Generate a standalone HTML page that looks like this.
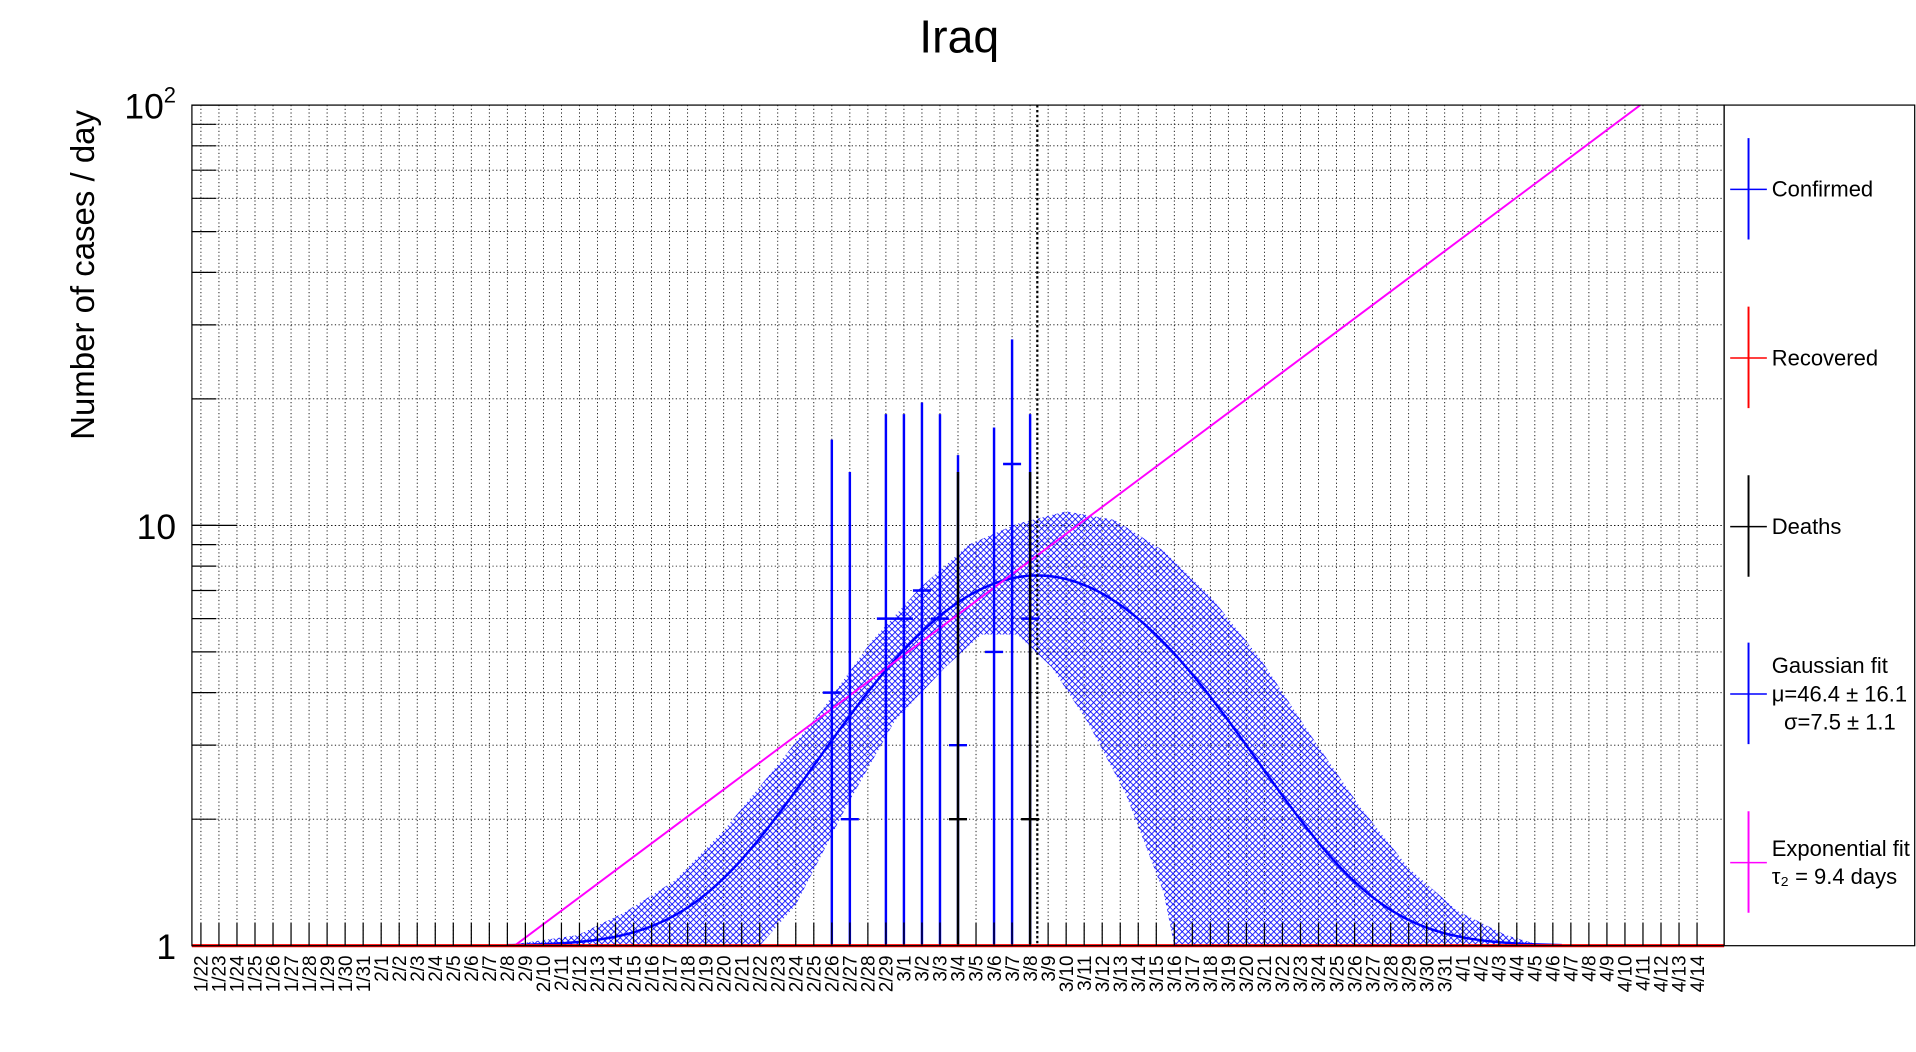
<!DOCTYPE html>
<html><head><meta charset="utf-8"><title>Iraq</title>
<style>html,body{margin:0;padding:0;background:#fff;}svg{display:block;font-family:"Liberation Sans",sans-serif;}</style>
</head><body>
<svg id="chart" width="1916" height="1052" viewBox="0 0 1568 861" xmlns="http://www.w3.org/2000/svg">
<defs>
<pattern id="hatch" patternUnits="userSpaceOnUse" width="5" height="5">
<path d="M0,0 L5,5 M5,0 L0,5" stroke="#0000ff" stroke-width="0.7" fill="none"/>
</pattern>
<clipPath id="plotclip"><rect x="157" y="86" width="1254" height="688"/></clipPath>
</defs>
<rect x="0" y="0" width="1568" height="861" fill="#fff"/>
<text x="785" y="43" font-size="38" text-anchor="middle">Iraq</text>
<text transform="translate(77,225) rotate(-90)" font-size="27" text-anchor="middle">Number of cases / day</text>
<g id="grid"></g>
<g id="band" clip-path="url(#plotclip)"></g>
<g id="lines" clip-path="url(#plotclip)"></g>
<g id="points"></g>
<g id="axes"></g>
<g id="legend"></g>
</svg>
<script>
// ---- data ----
const startDay = [1, 22]; // Jan 22
const nDays = 84;
const nBins = 85;
const confirmedIdx = [35, 36, 38, 39, 40, 41, 42, 44, 45, 46];
const confirmedVal = [4, 2, 6, 6, 7, 6, 3, 5, 14, 6];
const confirmedErrUp = [12, 11.4, 12.4, 12.4, 12.6, 12.4, 11.7, 12.1, 13.7, 12.4];
const deathsIdx = [42, 46];
const deathsVal = [2, 2];
const deathsErrUp = [11.4, 11.4];
const gaussMu = 46.4;
const gaussSigma = 7.5;
const gaussAmp = 6.6;
const expT0 = 17.9;
const expTau2 = 9.4;
const bandUpT = [17.3,21.4,24,26.8,29.5,32.2,35,37.7,40.4,43.1,45.8,48.5,51.2,53.9,56.6,59.3,62,64.8,67.5,70.2,72.9,74.9];
const bandUpV = [1,1.06,1.2,1.43,1.88,2.6,3.66,5.3,7.1,9.0,10.1,10.8,10.3,8.7,6.7,4.8,3.2,2.14,1.53,1.21,1.06,1.0];
const bandLoT = [31.5,33.5,36.3,39,41.8,43.8,45.8,47.7,49.7,51.8,53.9,54.5];
const bandLoV = [1,1.25,2.14,3.43,4.6,5.5,5.5,4.6,3.4,2.3,1.34,1];
const yTickLabels = ["1", "10", "10²"];

// ---- axes ----
const X0 = 157, X1 = 1411, Y0 = 774, Y1 = 86;
const bw = (X1 - X0) / nBins;
function xs(t) { return X0 + t * bw; }
function ys(v) { return Y0 - (Y0 - Y1) * Math.log10(v) / 2; }
const NS = "http://www.w3.org/2000/svg";
function mk(tag, attrs, parent) {
  const e = document.createElementNS(NS, tag);
  for (const k in attrs) e.setAttribute(k, attrs[k]);
  parent.appendChild(e);
  return e;
}
const grid = document.getElementById("grid");
const axes = document.getElementById("axes");
const band = document.getElementById("band");
const lines = document.getElementById("lines");
const pts = document.getElementById("points");
const legend = document.getElementById("legend");

const dim = {1:31, 2:29, 3:31, 4:30};
const dates = [];
let m = startDay[0], d = startDay[1];
for (let i = 0; i < nDays; i++) { dates.push(m + "/" + d); d++; if (d > dim[m]) { d = 1; m++; } }

for (let i = 0; i < nDays; i++) {
  const x = xs(i + 0.5);
  const g = mk("line", {x1:x, x2:x, y1:Y1, y2:Y0, stroke:"#000", "stroke-width":0.7, "stroke-dasharray":"1,2"}, grid);
  
  
  const tk = mk("line", {x1:x, x2:x, y1:Y0, y2:Y0-19, stroke:"#000", "stroke-width":1}, axes);
  
  
  const t = mk("text", {transform:"translate(" + (x + 5.5) + ",782) rotate(-90)", "font-size":15.5, "text-anchor":"end"}, axes);
  t.textContent = dates[i];
  
  
}
for (let dec = 0; dec < 2; dec++) {
  for (let k = 1; k <= 10; k++) {
    const v = k * Math.pow(10, dec);
    if (v === 1) continue;
    const y = ys(v);
    if (v < 100) {
      const g = mk("line", {x1:X0, x2:X1, y1:y, y2:y, stroke:"#000", "stroke-width":0.7, "stroke-dasharray":"1,2"}, grid);
      
      
    }
    const major = (k === 10);
    const tk = mk("line", {x1:X0, x2:X0 + (major ? 37 : 20), y1:y, y2:y, stroke:"#000", "stroke-width":1}, axes);
    
    
  }
}
[1, 10, 100].forEach((v, i) => {
  const t = mk("text", {x:144, y:ys(v) + 11, "font-size":29, "text-anchor":"end"}, axes);
  if (i === 2) {
    t.textContent = "10";
    const s = mk("tspan", {dy:-13, "font-size":18}, t);
    s.textContent = "2";
  } else t.textContent = yTickLabels[i];
  
  
});

let p = [];
for (let i = 0; i < bandUpT.length; i++) p.push(xs(bandUpT[i]) + "," + ys(bandUpV[i]));
p.push(xs(bandUpT[bandUpT.length-1]) + "," + Y0);
for (let i = bandLoT.length - 1; i >= 0; i--) p.push(xs(bandLoT[i]) + "," + ys(bandLoV[i]));
p.push(xs(bandUpT[0]) + "," + Y0);
const bp = mk("polygon", {points:p.join(" "), fill:"url(#hatch)", stroke:"none"}, band);



p = [];
for (let t = 17.5; t <= 76; t += 0.25) {
  const v = 1 + gaussAmp * Math.exp(-Math.pow(t - (gaussMu + 0.5), 2) / (2 * gaussSigma * gaussSigma));
  p.push(xs(t).toFixed(2) + "," + ys(v).toFixed(2));
}
const gc = mk("polyline", {points:p.join(" "), fill:"none", stroke:"#0000ff", "stroke-width":2}, lines);



const tEnd = expT0 + expTau2 * Math.log2(100);
const ec = mk("line", {x1:xs(expT0), y1:ys(1), x2:xs(tEnd), y2:ys(100), stroke:"#ff00ff", "stroke-width":1.6}, lines);



const ml = mk("line", {x1:xs(gaussMu + 0.5), x2:xs(gaussMu + 0.5), y1:Y1, y2:Y0, stroke:"#000", "stroke-width":1.8, "stroke-dasharray":"2,2"}, lines);



function drawPts(idx, val, err, color, name) {
  for (let i = 0; i < idx.length; i++) {
    const x = xs(idx[i] + 0.5), y = ys(val[i]);
    const g = mk("g", {}, pts);
    
    
    mk("line", {x1:x, x2:x, y1:ys(val[i] + err[i]), y2:Y0, stroke:color, "stroke-width":2}, g);
    mk("line", {x1:x - bw/2, x2:x + bw/2, y1:y, y2:y, stroke:color, "stroke-width":2}, g);
  }
}
drawPts(confirmedIdx, confirmedVal, confirmedErrUp, "#0000ff", "confirmed-point");
drawPts(deathsIdx, deathsVal, deathsErrUp, "#000000", "deaths-point");

const rl = mk("line", {x1:X0, x2:X1, y1:Y0, y2:Y0, stroke:"#ff0000", "stroke-width":2.5}, pts);



const fr = mk("rect", {x:X0, y:Y1, width:X1 - X0, height:Y0 - Y1, fill:"none", stroke:"#000", "stroke-width":1}, axes);



const lb = mk("rect", {x:1411, y:86, width:156, height:688, fill:"none", stroke:"#000", "stroke-width":1}, legend);


const legItems = [
  {c:"#0000ff", y:155, lines:["Confirmed"], name:"legend-confirmed"},
  {c:"#ff0000", y:293, lines:["Recovered"], name:"legend-recovered"},
  {c:"#000000", y:431, lines:["Deaths"], name:"legend-deaths"},
  {c:"#0000ff", y:568, lines:["Gaussian fit", "μ=46.4 ± 16.1", "  σ=7.5 ± 1.1"], name:"legend-gaussian-fit"},
  {c:"#ff00ff", y:706, lines:["Exponential fit", "τ₂ = 9.4 days"], name:"legend-exponential-fit"}
];
legItems.forEach(it => {
  const g = mk("g", {}, legend);
  
  
  mk("line", {x1:1431, x2:1431, y1:it.y - 42, y2:it.y + 41, stroke:it.c, "stroke-width":1.6}, g);
  mk("line", {x1:1416, x2:1446, y1:it.y, y2:it.y, stroke:it.c, "stroke-width":1.2}, g);
  const n = it.lines.length;
  const lh = 23;
  it.lines.forEach((s, j) => {
    const t = mk("text", {x:1450, y:it.y + 6 + (j - (n - 1) / 2) * lh, "font-size":18, "xml:space":"preserve"}, g);
    t.style.whiteSpace = "pre";
    t.textContent = s;
  });
});
</script>
</body></html>
